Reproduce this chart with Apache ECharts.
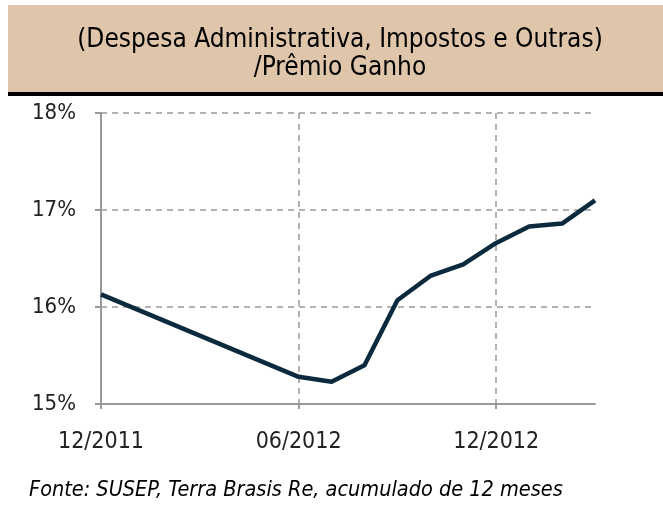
<!DOCTYPE html>
<html>
<head>
<meta charset="utf-8">
<script src="https://cdn.jsdelivr.net/npm/echarts@6/dist/echarts.min.js"></script>
<style>
    html, body { margin: 0; padding: 0; background: #fff; }
    #chart { width: 663px; height: 507px; }
</style>
</head>
<body>
<div id="chart"></div>
<script>
// Data
var months = ['12/2011', '01/2012', '02/2012', '03/2012', '04/2012', '05/2012', '06/2012',
    '07/2012', '08/2012', '09/2012', '10/2012', '11/2012', '12/2012', '01/2013', '02/2013', '03/2013'];
var ratio = [16.13, null, null, null, null, null, 15.28,
    15.23, 15.40, 16.07, 16.32, 16.44, 16.66, 16.83, 16.86, 17.10];
var shownLabels = ['12/2011', '06/2012', '12/2012'];
var titleLines = ['(Despesa Administrativa, Impostos e Outras)', '/Prêmio Ganho'];
var sourceText = 'Fonte: SUSEP, Terra Brasis Re, acumulado de 12 meses';

var font = '"DejaVu Sans Condensed", "DejaVu Sans", sans-serif';

var myChart = echarts.init(document.getElementById('chart'), null, { renderer: 'canvas' });

function isShown(i, v) {
    return shownLabels.indexOf(v) >= 0;
}

var option = {
    animation: false,
    backgroundColor: '#ffffff',
    graphic: [
        // title box
        { type: 'rect', shape: { x: 8, y: 5, width: 655, height: 87 }, style: { fill: '#dfc5aa' }, z: 0 },
        { type: 'rect', shape: { x: 8, y: 92, width: 655, height: 4 }, style: { fill: '#000000' }, z: 0 },
        {
            type: 'text', z: 2,
            style: { x: 340, y: 40, text: titleLines[0], font: '26px ' + font, fill: '#000', align: 'center', verticalAlign: 'middle' }
        },
        {
            type: 'text', z: 2,
            style: { x: 340, y: 68, text: titleLines[1], font: '26px ' + font, fill: '#000', align: 'center', verticalAlign: 'middle' }
        },
        {
            type: 'text', z: 2,
            style: { x: 29, y: 490, text: sourceText, font: 'italic 21.5px ' + font, fill: '#000', verticalAlign: 'middle' }
        }
    ],
    grid: { left: 101, right: 68, top: 113, bottom: 103 },
    xAxis: {
        type: 'category',
        data: months,
        boundaryGap: false,
        axisLine: { lineStyle: { color: '#999', width: 2 } },
        axisTick: { length: 5, lineStyle: { color: '#999', width: 2 }, interval: isShown },
        axisLabel: { color: '#222', fontSize: 23, fontFamily: font, margin: 27, interval: isShown },
        splitLine: {
            show: true,
            interval: function (i, v) { return i > 0 && isShown(i, v); },
            lineStyle: { color: '#999', type: [6, 5], width: 1.5 }
        }
    },
    yAxis: {
        type: 'value',
        min: 15, max: 18, interval: 1,
        axisLine: { show: true, lineStyle: { color: '#999', width: 2 } },
        axisTick: { show: true, length: 6, lineStyle: { color: '#999', width: 2 } },
        axisLabel: {
            color: '#222', fontSize: 22, fontFamily: font, margin: 25,
            formatter: function (v) { return v + '%'; }
        },
        splitLine: { lineStyle: { color: '#999', type: [6, 5], width: 1.5 } }
    },
    series: [{
        type: 'line',
        data: ratio,
        connectNulls: true,
        symbol: 'none',
        lineStyle: { color: '#0c2a3e', width: 4.5, join: 'round' }
    }]
};

myChart.setOption(option);
</script>
</body>
</html>
